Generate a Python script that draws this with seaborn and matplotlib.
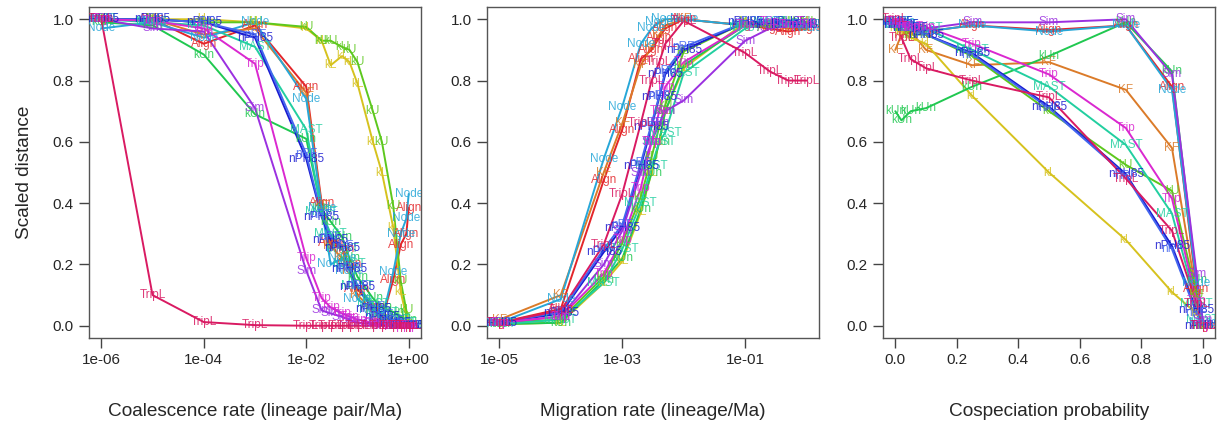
import matplotlib
matplotlib.use("Agg")
import matplotlib.pyplot as plt
import numpy as np
import pandas as pd
import seaborn as sns

# Distance measures (one line per measure) and their colours
methods = ["Align", "KF", "kL", "kU", "kUn", "MAST", "Node",
           "nPH85", "nRF", "Sim", "Trip", "TripL"]
colors = ["#E3262A", "#DB7B29", "#D6C21E", "#5DC81E", "#20C850", "#22CFA0",
          "#27A7D8", "#1A1AD0", "#4466EE", "#9B30E0", "#DA28D0", "#D91A62"]

# Panel 1: coalescence rate
coal_rate = [1e-6, 1e-5, 1e-4, 1e-3, 1e-2, 0.02, 0.03, 0.05, 0.07, 0.1,
             0.2, 0.3, 0.5, 0.7, 0.9, 1.0]
coal_Align = [1.0, 1.0, 0.92, 0.98, 0.78, 0.40, 0.27, 0.25, 0.20, 0.12, 0.06, 0.02, 0.15, 0.265, 0.30, 0.385]
coal_KF = [1.0, 1.0, 0.95, 0.97, 0.76, 0.39, 0.26, 0.22, 0.18, 0.10, 0.05, 0.02, 0.01, 0.0, 0.0, 0.0]
coal_kL = [1.0, 1.0, 1.0, 0.99, 0.97, 0.93, 0.85, 0.88, 0.86, 0.79, 0.60, 0.50, 0.32, 0.11, 0.03, 0.0]
coal_kU = [1.0, 1.0, 0.99, 0.99, 0.975, 0.93, 0.93, 0.91, 0.90, 0.86, 0.70, 0.60, 0.39, 0.145, 0.05, 0.0]
coal_kUn = [0.99, 0.98, 0.885, 0.69, 0.61, 0.38, 0.34, 0.29, 0.22, 0.16, 0.09, 0.06, 0.045, 0.03, 0.02, 0.0]
coal_MAST = [1.0, 0.99, 0.98, 0.91, 0.64, 0.37, 0.30, 0.25, 0.20, 0.13, 0.07, 0.04, 0.02, 0.01, 0.0, 0.0]
coal_Node = [0.97, 0.99, 0.94, 0.99, 0.74, 0.385, 0.20, 0.22, 0.18, 0.087, 0.05, 0.02, 0.175, 0.30, 0.35, 0.43]
coal_nPH85 = [1.0, 1.0, 0.99, 0.94, 0.545, 0.355, 0.28, 0.255, 0.185, 0.125, 0.055, 0.03, 0.01, 0.0, 0.0, 0.0]
coal_nRF = [1.0, 1.0, 0.99, 0.95, 0.56, 0.36, 0.29, 0.26, 0.19, 0.13, 0.06, 0.035, 0.015, 0.005, 0.0, 0.0]
coal_Sim = [1.0, 0.97, 0.96, 0.71, 0.18, 0.05, 0.04, 0.03, 0.02, 0.01, 0.005, 0.0, 0.0, 0.0, 0.0, 0.0]
coal_Trip = [1.0, 0.995, 0.97, 0.855, 0.22, 0.09, 0.06, 0.04, 0.03, 0.02, 0.01, 0.005, 0.0, 0.0, 0.0, 0.0]
coal_TripL = [1.0, 0.10, 0.012, 0.002, 0.0, 0.0, 0.0, 0.0, 0.0, 0.0, 0.0, 0.0, 0.0, 0.0, 0.0, 0.0]

# Panel 2: migration rate
mig_rate = [1e-5, 1e-4, 5e-4, 1e-3, 2e-3, 3e-3, 4e-3, 5e-3, 1e-2, 0.1, 0.25, 0.5, 1.0]
mig_Align = [0.01, 0.055, 0.475, 0.64, 0.87, 0.90, 0.94, 0.97, 1.0, 0.98, 0.97, 0.96, 0.97]
mig_KF = [0.02, 0.10, 0.50, 0.66, 0.85, 0.91, 0.95, 0.98, 1.0, 0.98, 0.98, 0.97, 0.97]
mig_kL = [0.005, 0.01, 0.14, 0.21, 0.37, 0.50, 0.60, 0.70, 0.84, 0.99, 0.98, 0.98, 0.99]
mig_kU = [0.01, 0.02, 0.16, 0.27, 0.42, 0.55, 0.65, 0.72, 0.895, 0.99, 0.98, 0.99, 0.99]
mig_kUn = [0.005, 0.01, 0.15, 0.22, 0.38, 0.50, 0.60, 0.70, 0.85, 0.98, 0.98, 0.99, 0.99]
mig_MAST = [0.005, 0.02, 0.14, 0.25, 0.40, 0.52, 0.60, 0.63, 0.825, 0.97, 0.99, 0.98, 0.98]
mig_Node = [0.01, 0.087, 0.545, 0.715, 0.92, 0.97, 0.99, 1.0, 1.0, 0.98, 0.99, 0.98, 0.97]
mig_nPH85 = [0.01, 0.04, 0.24, 0.32, 0.52, 0.65, 0.745, 0.82, 0.90, 0.99, 0.98, 0.99, 0.98]
mig_nRF = [0.01, 0.045, 0.25, 0.33, 0.53, 0.66, 0.75, 0.83, 0.91, 0.99, 0.99, 0.98, 0.98]
mig_Sim = [0.01, 0.03, 0.20, 0.31, 0.50, 0.60, 0.66, 0.70, 0.735, 0.93, 0.97, 0.98, 0.98]
mig_Trip = [0.01, 0.03, 0.17, 0.28, 0.45, 0.60, 0.70, 0.78, 0.86, 0.98, 0.99, 0.98, 0.99]
mig_TripL = [0.01, 0.05, 0.265, 0.43, 0.66, 0.80, 0.86, 0.92, 0.995, 0.89, 0.83, 0.80, 0.80]

# Panel 3: cospeciation probability
cosp_prob = [0.0, 0.02, 0.05, 0.1, 0.25, 0.5, 0.75, 0.9, 0.98, 1.0]
cosp_Align = [0.99, 0.98, 0.97, 0.96, 0.98, 0.965, 0.98, 0.78, 0.12, 0.0]
cosp_KF = [0.90, 0.95, 0.96, 0.90, 0.85, 0.86, 0.77, 0.58, 0.10, 0.0]
cosp_kL = [0.97, 0.96, 0.94, 0.92, 0.75, 0.50, 0.28, 0.11, 0.04, 0.0]
cosp_kU = [0.98, 0.97, 0.95, 0.95, 0.88, 0.70, 0.525, 0.44, 0.10, 0.0]
cosp_kUn = [0.70, 0.67, 0.70, 0.71, 0.78, 0.88, 0.99, 0.83, 0.15, 0.0]
cosp_MAST = [0.99, 0.98, 0.97, 0.97, 0.90, 0.78, 0.59, 0.366, 0.07, 0.02]
cosp_Node = [0.98, 0.99, 0.97, 0.96, 0.98, 0.96, 0.98, 0.77, 0.14, 0.01]
cosp_nPH85 = [0.99, 0.98, 0.97, 0.95, 0.89, 0.715, 0.495, 0.26, 0.05, 0.0]
cosp_nRF = [0.99, 0.98, 0.97, 0.95, 0.885, 0.71, 0.49, 0.25, 0.04, 0.0]
cosp_Sim = [0.99, 0.98, 0.97, 0.97, 0.99, 0.99, 1.0, 0.82, 0.17, 0.02]
cosp_Trip = [0.99, 0.98, 0.975, 0.975, 0.92, 0.82, 0.645, 0.415, 0.08, 0.0]
cosp_TripL = [1.0, 0.94, 0.87, 0.84, 0.80, 0.745, 0.48, 0.31, 0.07, 0.0]

coal = dict(zip(methods, [coal_Align, coal_KF, coal_kL, coal_kU, coal_kUn, coal_MAST,
                          coal_Node, coal_nPH85, coal_nRF, coal_Sim, coal_Trip, coal_TripL]))
mig = dict(zip(methods, [mig_Align, mig_KF, mig_kL, mig_kU, mig_kUn, mig_MAST,
                         mig_Node, mig_nPH85, mig_nRF, mig_Sim, mig_Trip, mig_TripL]))
cosp = dict(zip(methods, [cosp_Align, cosp_KF, cosp_kL, cosp_kU, cosp_kUn, cosp_MAST,
                          cosp_Node, cosp_nPH85, cosp_nRF, cosp_Sim, cosp_Trip, cosp_TripL]))

palette = dict(zip(methods, colors))

sns.set_theme(style="white")
plt.rcParams["font.family"] = ["Liberation Sans", "DejaVu Sans"]

fig = plt.figure(figsize=(12.25, 4.25), dpi=100)
W, H = 1225.0, 425.0
bottom, top = 338.0, 7.0
lefts = [89.0, 487.0, 883.0]
width = 332.0
axes = [fig.add_axes([l / W, 1 - bottom / H, width / W, (bottom - top) / H]) for l in lefts]


def long_frame(xvals, table):
    rows = []
    for m in methods:
        for xv, yv in zip(xvals, table[m]):
            rows.append({"x": xv, "y": yv, "method": m})
    return pd.DataFrame(rows)


def draw_panel(ax, xvals, table, xlabel, logx):
    if logx:
        ax.set_xscale("log")
    df = long_frame(xvals, table)
    sns.lineplot(data=df, x="x", y="y", hue="method", hue_order=methods,
                 palette=palette, estimator=None, sort=False, legend=False,
                 linewidth=1.4, ax=ax)
    for _, r in df.iterrows():
        ax.text(r["x"], r["y"], r["method"], color=palette[r["method"]],
                fontsize=8.5, ha="center", va="center", alpha=0.85, clip_on=True)
    ax.set_ylim(-0.04, 1.04)
    ax.set_yticks([0.0, 0.2, 0.4, 0.6, 0.8, 1.0])
    ax.set_yticklabels(["0.0", "0.2", "0.4", "0.6", "0.8", "1.0"])
    ax.set_xlabel(xlabel, fontsize=13.7, labelpad=26)
    ax.set_ylabel("")
    ax.tick_params(axis="both", which="major", direction="out", length=7,
                   width=1.0, color="#444444", labelsize=11, pad=4,
                   bottom=True, left=True)
    ax.tick_params(axis="x", which="minor", bottom=False)
    for s in ax.spines.values():
        s.set_color("#555555")
        s.set_linewidth(1.0)


draw_panel(axes[0], coal_rate, coal, "Coalescence rate (lineage pair/Ma)", True)
axes[0].set_xlim(10 ** -6.24, 10 ** 0.24)
axes[0].set_xticks([1e-6, 1e-4, 1e-2, 1.0])
axes[0].set_xticklabels(["1e-06", "1e-04", "1e-02", "1e+00"])
axes[0].set_ylabel("Scaled distance", fontsize=13.7, labelpad=14)

draw_panel(axes[1], mig_rate, mig, "Migration rate (lineage/Ma)", True)
axes[1].set_xlim(10 ** -5.2, 10 ** 0.2)
axes[1].set_xticks([1e-5, 1e-3, 1e-1])
axes[1].set_xticklabels(["1e-05", "1e-03", "1e-01"])

draw_panel(axes[2], cosp_prob, cosp, "Cospeciation probability", False)
axes[2].set_xlim(-0.04, 1.04)
axes[2].set_xticks([0.0, 0.2, 0.4, 0.6, 0.8, 1.0])
axes[2].set_xticklabels(["0.0", "0.2", "0.4", "0.6", "0.8", "1.0"])

for ax in axes:
    ax.xaxis.set_minor_locator(matplotlib.ticker.NullLocator())

fig.savefig("out.png", dpi=100)
